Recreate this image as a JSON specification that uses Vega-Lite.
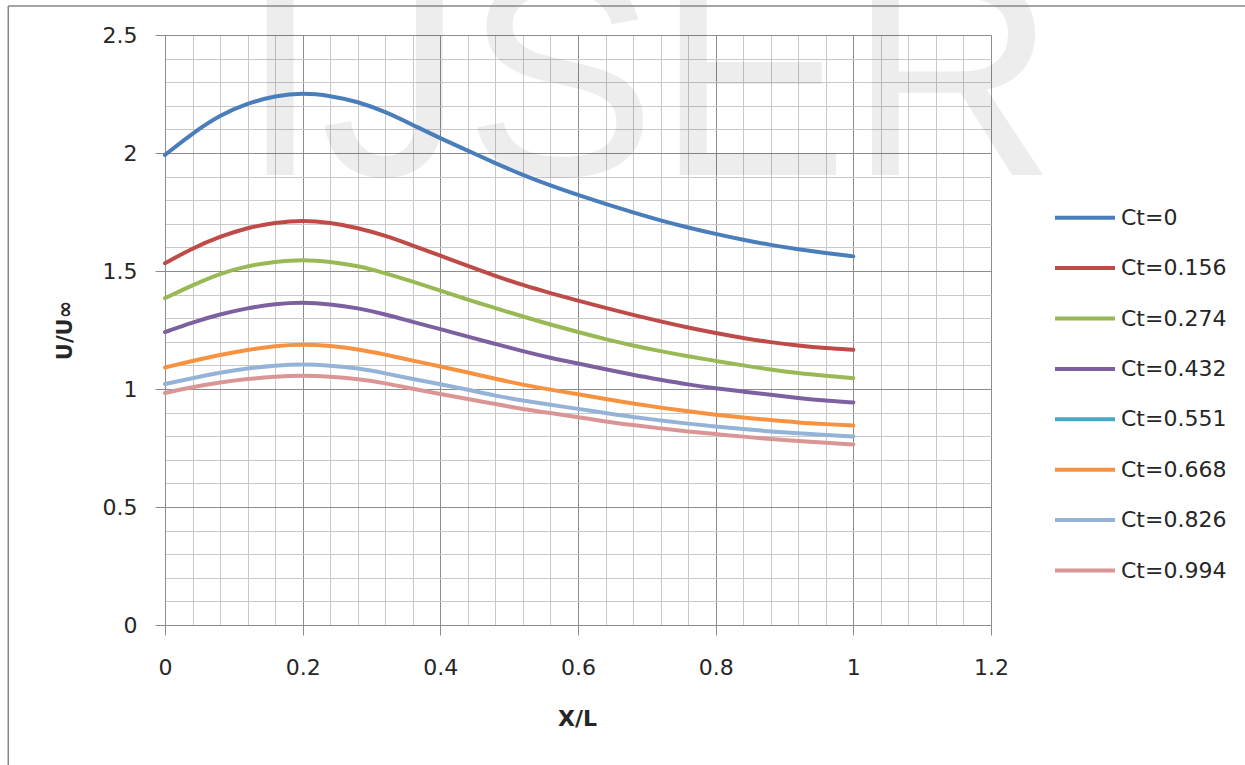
{
  "$schema": "https://vega.github.io/schema/vega-lite/v6.json",
  "width": 826,
  "height": 590,
  "autosize": {"type": "none"},
  "padding": {"left": 165, "top": 35, "right": 254, "bottom": 140},
  "background": "white",
  "config": {"view": {"stroke": null}, "font": "DejaVu Sans"},
  "layer": [
    {
      "data": {"values": [{"label": "IJSER"}]},
      "mark": {"type": "text", "font": "Liberation Sans", "fontSize": 288, "fill": "#000000", "opacity": 0.065, "align": "center", "baseline": "alphabetic"},
      "encoding": {
        "x": {"datum": 0.702, "type": "quantitative"},
        "y": {"datum": 1.907, "type": "quantitative"},
        "text": {"field": "label"}
      }
    },
    {
      "data": {"values": [{}]},
      "mark": {"type": "rule", "stroke": "#878787", "strokeWidth": 1.5},
      "encoding": {
        "x": {"datum": -0.2277, "type": "quantitative"},
        "x2": {"datum": 1.7},
        "y": {"datum": 2.623, "type": "quantitative"}
      }
    },
    {
      "data": {"values": [{}]},
      "mark": {"type": "rule", "stroke": "#878787", "strokeWidth": 1.5},
      "encoding": {
        "x": {"datum": -0.2277, "type": "quantitative"},
        "y": {"datum": 2.623, "type": "quantitative"},
        "y2": {"datum": -0.7}
      }
    },
    {
      "data": {
        "values": [
          {"ct": "Ct=0", "x": 0, "u": 1.992}, {"ct": "Ct=0", "x": 0.04, "u": 2.084}, {"ct": "Ct=0", "x": 0.08, "u": 2.161}, {"ct": "Ct=0", "x": 0.12, "u": 2.211}, {"ct": "Ct=0", "x": 0.16, "u": 2.243}, {"ct": "Ct=0", "x": 0.2, "u": 2.255}, {"ct": "Ct=0", "x": 0.24, "u": 2.243}, {"ct": "Ct=0", "x": 0.28, "u": 2.218}, {"ct": "Ct=0", "x": 0.32, "u": 2.175}, {"ct": "Ct=0", "x": 0.36, "u": 2.119}, {"ct": "Ct=0", "x": 0.4, "u": 2.062}, {"ct": "Ct=0", "x": 0.44, "u": 2.01}, {"ct": "Ct=0", "x": 0.48, "u": 1.957}, {"ct": "Ct=0", "x": 0.52, "u": 1.906}, {"ct": "Ct=0", "x": 0.56, "u": 1.862}, {"ct": "Ct=0", "x": 0.6, "u": 1.822}, {"ct": "Ct=0", "x": 0.64, "u": 1.784}, {"ct": "Ct=0", "x": 0.68, "u": 1.748}, {"ct": "Ct=0", "x": 0.72, "u": 1.714}, {"ct": "Ct=0", "x": 0.76, "u": 1.684}, {"ct": "Ct=0", "x": 0.8, "u": 1.657}, {"ct": "Ct=0", "x": 0.84, "u": 1.632}, {"ct": "Ct=0", "x": 0.88, "u": 1.61}, {"ct": "Ct=0", "x": 0.92, "u": 1.592}, {"ct": "Ct=0", "x": 0.96, "u": 1.576}, {"ct": "Ct=0", "x": 1.0, "u": 1.562},

          {"ct": "Ct=0.156", "x": 0, "u": 1.533}, {"ct": "Ct=0.156", "x": 0.04, "u": 1.597}, {"ct": "Ct=0.156", "x": 0.08, "u": 1.646}, {"ct": "Ct=0.156", "x": 0.12, "u": 1.684}, {"ct": "Ct=0.156", "x": 0.16, "u": 1.705}, {"ct": "Ct=0.156", "x": 0.2, "u": 1.716}, {"ct": "Ct=0.156", "x": 0.24, "u": 1.705}, {"ct": "Ct=0.156", "x": 0.28, "u": 1.683}, {"ct": "Ct=0.156", "x": 0.32, "u": 1.65}, {"ct": "Ct=0.156", "x": 0.36, "u": 1.608}, {"ct": "Ct=0.156", "x": 0.4, "u": 1.565}, {"ct": "Ct=0.156", "x": 0.44, "u": 1.521}, {"ct": "Ct=0.156", "x": 0.48, "u": 1.479}, {"ct": "Ct=0.156", "x": 0.52, "u": 1.44}, {"ct": "Ct=0.156", "x": 0.56, "u": 1.406}, {"ct": "Ct=0.156", "x": 0.6, "u": 1.374}, {"ct": "Ct=0.156", "x": 0.64, "u": 1.344}, {"ct": "Ct=0.156", "x": 0.68, "u": 1.314}, {"ct": "Ct=0.156", "x": 0.72, "u": 1.286}, {"ct": "Ct=0.156", "x": 0.76, "u": 1.26}, {"ct": "Ct=0.156", "x": 0.8, "u": 1.237}, {"ct": "Ct=0.156", "x": 0.84, "u": 1.216}, {"ct": "Ct=0.156", "x": 0.88, "u": 1.198}, {"ct": "Ct=0.156", "x": 0.92, "u": 1.184}, {"ct": "Ct=0.156", "x": 0.96, "u": 1.173}, {"ct": "Ct=0.156", "x": 1.0, "u": 1.166},

          {"ct": "Ct=0.274", "x": 0, "u": 1.385}, {"ct": "Ct=0.274", "x": 0.04, "u": 1.44}, {"ct": "Ct=0.274", "x": 0.08, "u": 1.49}, {"ct": "Ct=0.274", "x": 0.12, "u": 1.522}, {"ct": "Ct=0.274", "x": 0.16, "u": 1.54}, {"ct": "Ct=0.274", "x": 0.2, "u": 1.549}, {"ct": "Ct=0.274", "x": 0.24, "u": 1.54}, {"ct": "Ct=0.274", "x": 0.28, "u": 1.522}, {"ct": "Ct=0.274", "x": 0.32, "u": 1.491}, {"ct": "Ct=0.274", "x": 0.36, "u": 1.455}, {"ct": "Ct=0.274", "x": 0.4, "u": 1.417}, {"ct": "Ct=0.274", "x": 0.44, "u": 1.378}, {"ct": "Ct=0.274", "x": 0.48, "u": 1.343}, {"ct": "Ct=0.274", "x": 0.52, "u": 1.307}, {"ct": "Ct=0.274", "x": 0.56, "u": 1.273}, {"ct": "Ct=0.274", "x": 0.6, "u": 1.241}, {"ct": "Ct=0.274", "x": 0.64, "u": 1.211}, {"ct": "Ct=0.274", "x": 0.68, "u": 1.184}, {"ct": "Ct=0.274", "x": 0.72, "u": 1.16}, {"ct": "Ct=0.274", "x": 0.76, "u": 1.138}, {"ct": "Ct=0.274", "x": 0.8, "u": 1.119}, {"ct": "Ct=0.274", "x": 0.84, "u": 1.1}, {"ct": "Ct=0.274", "x": 0.88, "u": 1.082}, {"ct": "Ct=0.274", "x": 0.92, "u": 1.067}, {"ct": "Ct=0.274", "x": 0.96, "u": 1.056}, {"ct": "Ct=0.274", "x": 1.0, "u": 1.046},

          {"ct": "Ct=0.432", "x": 0, "u": 1.241}, {"ct": "Ct=0.432", "x": 0.04, "u": 1.282}, {"ct": "Ct=0.432", "x": 0.08, "u": 1.317}, {"ct": "Ct=0.432", "x": 0.12, "u": 1.343}, {"ct": "Ct=0.432", "x": 0.16, "u": 1.361}, {"ct": "Ct=0.432", "x": 0.2, "u": 1.368}, {"ct": "Ct=0.432", "x": 0.24, "u": 1.36}, {"ct": "Ct=0.432", "x": 0.28, "u": 1.343}, {"ct": "Ct=0.432", "x": 0.32, "u": 1.317}, {"ct": "Ct=0.432", "x": 0.36, "u": 1.284}, {"ct": "Ct=0.432", "x": 0.4, "u": 1.254}, {"ct": "Ct=0.432", "x": 0.44, "u": 1.222}, {"ct": "Ct=0.432", "x": 0.48, "u": 1.191}, {"ct": "Ct=0.432", "x": 0.52, "u": 1.16}, {"ct": "Ct=0.432", "x": 0.56, "u": 1.132}, {"ct": "Ct=0.432", "x": 0.6, "u": 1.108}, {"ct": "Ct=0.432", "x": 0.64, "u": 1.084}, {"ct": "Ct=0.432", "x": 0.68, "u": 1.06}, {"ct": "Ct=0.432", "x": 0.72, "u": 1.039}, {"ct": "Ct=0.432", "x": 0.76, "u": 1.019}, {"ct": "Ct=0.432", "x": 0.8, "u": 1.003}, {"ct": "Ct=0.432", "x": 0.84, "u": 0.989}, {"ct": "Ct=0.432", "x": 0.88, "u": 0.975}, {"ct": "Ct=0.432", "x": 0.92, "u": 0.962}, {"ct": "Ct=0.432", "x": 0.96, "u": 0.951}, {"ct": "Ct=0.432", "x": 1.0, "u": 0.943},

          {"ct": "Ct=0.668", "x": 0, "u": 1.091}, {"ct": "Ct=0.668", "x": 0.04, "u": 1.119}, {"ct": "Ct=0.668", "x": 0.08, "u": 1.145}, {"ct": "Ct=0.668", "x": 0.12, "u": 1.166}, {"ct": "Ct=0.668", "x": 0.16, "u": 1.183}, {"ct": "Ct=0.668", "x": 0.2, "u": 1.19}, {"ct": "Ct=0.668", "x": 0.24, "u": 1.183}, {"ct": "Ct=0.668", "x": 0.28, "u": 1.169}, {"ct": "Ct=0.668", "x": 0.32, "u": 1.146}, {"ct": "Ct=0.668", "x": 0.36, "u": 1.12}, {"ct": "Ct=0.668", "x": 0.4, "u": 1.096}, {"ct": "Ct=0.668", "x": 0.44, "u": 1.07}, {"ct": "Ct=0.668", "x": 0.48, "u": 1.043}, {"ct": "Ct=0.668", "x": 0.52, "u": 1.018}, {"ct": "Ct=0.668", "x": 0.56, "u": 0.997}, {"ct": "Ct=0.668", "x": 0.6, "u": 0.978}, {"ct": "Ct=0.668", "x": 0.64, "u": 0.957}, {"ct": "Ct=0.668", "x": 0.68, "u": 0.938}, {"ct": "Ct=0.668", "x": 0.72, "u": 0.921}, {"ct": "Ct=0.668", "x": 0.76, "u": 0.905}, {"ct": "Ct=0.668", "x": 0.8, "u": 0.891}, {"ct": "Ct=0.668", "x": 0.84, "u": 0.879}, {"ct": "Ct=0.668", "x": 0.88, "u": 0.868}, {"ct": "Ct=0.668", "x": 0.92, "u": 0.858}, {"ct": "Ct=0.668", "x": 0.96, "u": 0.851}, {"ct": "Ct=0.668", "x": 1.0, "u": 0.845},

          {"ct": "Ct=0.826", "x": 0, "u": 1.021}, {"ct": "Ct=0.826", "x": 0.04, "u": 1.046}, {"ct": "Ct=0.826", "x": 0.08, "u": 1.07}, {"ct": "Ct=0.826", "x": 0.12, "u": 1.088}, {"ct": "Ct=0.826", "x": 0.16, "u": 1.1}, {"ct": "Ct=0.826", "x": 0.2, "u": 1.105}, {"ct": "Ct=0.826", "x": 0.24, "u": 1.1}, {"ct": "Ct=0.826", "x": 0.28, "u": 1.088}, {"ct": "Ct=0.826", "x": 0.32, "u": 1.067}, {"ct": "Ct=0.826", "x": 0.36, "u": 1.042}, {"ct": "Ct=0.826", "x": 0.4, "u": 1.021}, {"ct": "Ct=0.826", "x": 0.44, "u": 0.997}, {"ct": "Ct=0.826", "x": 0.48, "u": 0.971}, {"ct": "Ct=0.826", "x": 0.52, "u": 0.951}, {"ct": "Ct=0.826", "x": 0.56, "u": 0.933}, {"ct": "Ct=0.826", "x": 0.6, "u": 0.916}, {"ct": "Ct=0.826", "x": 0.64, "u": 0.898}, {"ct": "Ct=0.826", "x": 0.68, "u": 0.881}, {"ct": "Ct=0.826", "x": 0.72, "u": 0.867}, {"ct": "Ct=0.826", "x": 0.76, "u": 0.853}, {"ct": "Ct=0.826", "x": 0.8, "u": 0.841}, {"ct": "Ct=0.826", "x": 0.84, "u": 0.83}, {"ct": "Ct=0.826", "x": 0.88, "u": 0.82}, {"ct": "Ct=0.826", "x": 0.92, "u": 0.812}, {"ct": "Ct=0.826", "x": 0.96, "u": 0.805}, {"ct": "Ct=0.826", "x": 1.0, "u": 0.799},

          {"ct": "Ct=0.994", "x": 0, "u": 0.983}, {"ct": "Ct=0.994", "x": 0.04, "u": 1.008}, {"ct": "Ct=0.994", "x": 0.08, "u": 1.028}, {"ct": "Ct=0.994", "x": 0.12, "u": 1.043}, {"ct": "Ct=0.994", "x": 0.16, "u": 1.053}, {"ct": "Ct=0.994", "x": 0.2, "u": 1.057}, {"ct": "Ct=0.994", "x": 0.24, "u": 1.053}, {"ct": "Ct=0.994", "x": 0.28, "u": 1.042}, {"ct": "Ct=0.994", "x": 0.32, "u": 1.025}, {"ct": "Ct=0.994", "x": 0.36, "u": 1.001}, {"ct": "Ct=0.994", "x": 0.4, "u": 0.979}, {"ct": "Ct=0.994", "x": 0.44, "u": 0.958}, {"ct": "Ct=0.994", "x": 0.48, "u": 0.936}, {"ct": "Ct=0.994", "x": 0.52, "u": 0.915}, {"ct": "Ct=0.994", "x": 0.56, "u": 0.898}, {"ct": "Ct=0.994", "x": 0.6, "u": 0.881}, {"ct": "Ct=0.994", "x": 0.64, "u": 0.862}, {"ct": "Ct=0.994", "x": 0.68, "u": 0.847}, {"ct": "Ct=0.994", "x": 0.72, "u": 0.833}, {"ct": "Ct=0.994", "x": 0.76, "u": 0.82}, {"ct": "Ct=0.994", "x": 0.8, "u": 0.809}, {"ct": "Ct=0.994", "x": 0.84, "u": 0.798}, {"ct": "Ct=0.994", "x": 0.88, "u": 0.788}, {"ct": "Ct=0.994", "x": 0.92, "u": 0.779}, {"ct": "Ct=0.994", "x": 0.96, "u": 0.772}, {"ct": "Ct=0.994", "x": 1.0, "u": 0.765}
        ]
      },
      "mark": {"type": "line", "strokeWidth": 4, "interpolate": "basis", "strokeCap": "round"},
      "encoding": {
        "x": {
          "field": "x",
          "type": "quantitative",
          "scale": {"domain": [0, 1.2], "nice": false},
          "axis": {
            "values": [0, 0.04, 0.08, 0.12, 0.16, 0.2, 0.24, 0.28, 0.32, 0.36, 0.4, 0.44, 0.48, 0.52, 0.56, 0.6, 0.64, 0.68, 0.72, 0.76, 0.8, 0.84, 0.88, 0.92, 0.96, 1.0, 1.04, 1.08, 1.12, 1.16, 1.2],
            "tickCount": 200,
            "grid": true,
            "gridWidth": 1,
            "gridColor": {"condition": {"test": "abs(datum.value*5-round(datum.value*5))<0.001", "value": "#8c8c8c"}, "value": "#c9c9c9"},
            "tickColor": "#8c8c8c",
            "tickSize": 10,
            "tickOpacity": {"condition": {"test": "abs(datum.value*5-round(datum.value*5))<0.001", "value": 1}, "value": 0},
            "labelExpr": "abs(datum.value*5-round(datum.value*5))<0.001 ? format(datum.value, '~g') : ''",
            "labelFont": "DejaVu Sans",
            "labelFontSize": 22,
            "labelColor": "#262626",
            "labelPadding": 22,
            "labelOverlap": false,
            "labelFlush": false,
            "domainColor": "#8c8c8c",
            "title": "X/L",
            "titleFont": "DejaVu Sans",
            "titleFontSize": 22,
            "titleFontWeight": "bold",
            "titleColor": "#262626",
            "titleX": 412,
            "titleY": 93,
            "titleBaseline": "middle"
          }
        },
        "y": {
          "field": "u",
          "type": "quantitative",
          "scale": {"domain": [0, 2.5], "nice": false},
          "axis": {
            "values": [0, 0.1, 0.2, 0.3, 0.4, 0.5, 0.6, 0.7, 0.8, 0.9, 1.0, 1.1, 1.2, 1.3, 1.4, 1.5, 1.6, 1.7, 1.8, 1.9, 2.0, 2.1, 2.2, 2.3, 2.4, 2.5],
            "tickCount": 200,
            "grid": true,
            "gridWidth": 1,
            "gridColor": {"condition": {"test": "abs(datum.value*2-round(datum.value*2))<0.001", "value": "#8c8c8c"}, "value": "#c9c9c9"},
            "tickColor": "#8c8c8c",
            "tickSize": 10,
            "tickOpacity": {"condition": {"test": "abs(datum.value*2-round(datum.value*2))<0.001", "value": 1}, "value": 0},
            "labelExpr": "abs(datum.value*2-round(datum.value*2))<0.001 ? format(datum.value, '~g') : ''",
            "labelFont": "DejaVu Sans",
            "labelFontSize": 22,
            "labelColor": "#262626",
            "labelPadding": 18,
            "labelOverlap": false,
            "labelFlush": false,
            "domainColor": "#8c8c8c",
            "title": "U/U∞",
            "titleFont": "DejaVu Sans",
            "titleFontSize": 21,
            "titleFontWeight": "bold",
            "titleColor": "#262626",
            "titleX": -100,
            "titleY": 295,
            "titleAngle": -90,
            "titleAlign": "center",
            "titleBaseline": "middle"
          }
        },
        "color": {
          "field": "ct",
          "type": "nominal",
          "scale": {
            "domain": ["Ct=0", "Ct=0.156", "Ct=0.274", "Ct=0.432", "Ct=0.551", "Ct=0.668", "Ct=0.826", "Ct=0.994"],
            "range": ["#4a7ebb", "#be4b48", "#98b954", "#7d60a0", "#46aac5", "#f69240", "#95b3d7", "#d99694"]
          },
          "legend": {
            "title": null,
            "orient": "none",
            "legendX": 888,
            "legendY": 172.7,
            "padding": 0,
            "symbolType": "stroke",
            "symbolSize": 3600,
            "symbolStrokeWidth": 4,
            "clipHeight": 20,
            "rowPadding": 28.4,
            "labelFont": "DejaVu Sans",
            "labelFontSize": 22,
            "labelColor": "#262626",
            "labelOffset": 4,
            "labelLimit": 300
          }
        }
      }
    }
  ]
}
